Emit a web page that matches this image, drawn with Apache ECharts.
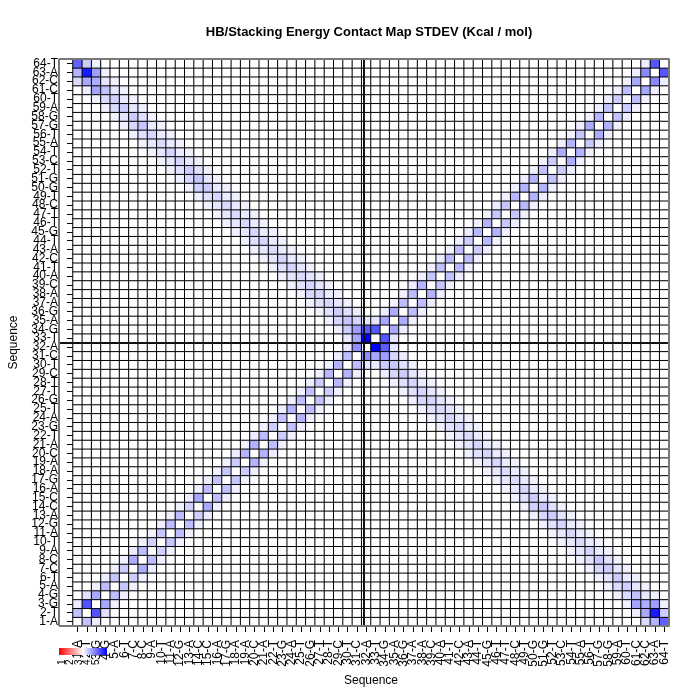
<!DOCTYPE html>
<html>
<head>
<meta charset="utf-8">
<script src="https://cdn.jsdelivr.net/npm/echarts@6/dist/echarts.min.js"></script>
<style>html,body{margin:0;padding:0;background:#fff}#c{width:700px;height:700px}</style>
</head>
<body>
<div id="c"></div>
<script>
// ---- data ----
const labels = ["1-A","2-T","3-G","4-G","5-A","6-T","7-C","8-C","9-A","10-T","11-A","12-G","13-A","14-C","15-C","16-A",
"17-G","18-A","19-A","20-C","21-A","22-T","23-G","24-A","25-T","26-G","27-T","28-T","29-C","30-T","31-C","32-A",
"33-T","34-G","35-A","36-G","37-A","38-A","39-C","40-A","41-T","42-C","43-A","44-T","45-G","46-T","47-T","48-C",
"49-T","50-G","51-G","52-T","53-C","54-T","55-A","56-T","57-G","58-G","59-A","60-T","61-C","62-C","63-A","64-T"];
const legendTicks = ["1","2","3","4","5"];
// stacking i,i+1 in strand 1 (i = 1..31)
const strand1Stack = [1.2,3.4,1.7,1.3,1.1,1.0,1.6,1.3,0.9,1.1,1.3,1.3,0.9,1.7,1.3,1.2,1.1,1.0,1.5,1.5,1.3,1.0,1.2,1.5,1.3,1.2,1.0,1.4,1.5,1.3,2.2];
// stacking i,i+1 in strand 2 (i = 33..63)
const strand2Stack = [3.3,1.7,1.6,1.3,1.3,1.5,1.1,1.2,1.4,1.3,1.0,1.4,1.5,1.1,1.1,1.4,1.5,1.5,1.2,1.0,1.6,1.5,1.1,1.6,1.5,1.2,1.0,1.3,1.7,2.3,3.3];
// i,i+2 in strand 1 (i = 1..30)
const strand1Next2 = [0.35,0.6,0.3,0.35,0.3,0.3,0.35,0.3,0.25,0.3,0.3,0.3,0.35,0.3,0.35,0.3,0.3,0.35,0.3,0.35,0.3,0.3,0.35,0.3,0.3,0.35,0.3,0.3,0.35,0.5];
// i,i+2 in strand 2 (i = 33..62)
const strand2Next2 = [0.5,0.35,0.3,0.3,0.35,0.3,0.3,0.35,0.3,0.3,0.35,0.3,0.3,0.35,0.3,0.3,0.35,0.3,0.3,0.35,0.3,0.3,0.35,0.3,0.3,0.35,0.3,0.3,0.35,0.35];
// HB pair i, 65-i (i = 1..32)
const hbPair = [3.1,4.5,1.6,1.2,0.9,1.0,1.0,1.1,0.8,0.7,0.8,0.8,1.0,1.1,1.0,0.8,0.7,0.7,0.8,0.8,0.8,0.7,0.8,0.8,0.7,0.8,0.8,0.8,1.0,1.1,1.9,5.0];
// cross contact i, 64-i (i = 1..31)
const crossA = [1.5,1.7,1.8,0.7,0.7,0.5,0.8,0.6,0.5,0.5,0.5,0.6,0.8,0.9,0.6,0.5,0.5,0.5,0.5,0.6,0.5,0.5,0.6,0.5,0.6,0.8,0.6,0.6,0.8,1.0,1.7];
// cross contact i+1, 65-i (i = 1..31)
const crossB = [1.0,1.9,0.5,0.5,0.4,0.5,0.6,0.4,0.4,0.4,0.4,0.5,0.6,0.5,0.4,0.4,0.4,0.4,0.4,0.4,0.4,0.4,0.4,0.5,0.5,0.5,0.4,0.5,0.6,0.8,3.2];
// cross contact i, 63-i (i = 1..30)
const crossA2 = [0.7,0.35,0.3,0.3,0.3,0.3,0.3,0.3,0.3,0.3,0.3,0.3,0.3,0.3,0.3,0.3,0.3,0.3,0.3,0.3,0.3,0.3,0.3,0.3,0.3,0.3,0.3,0.3,0.35,0.4];
// cross contact i+2, 65-i (i = 1..30)
const crossB2 = [0.3,0.3,0.3,0.3,0.3,0.3,0.3,0.3,0.3,0.3,0.3,0.3,0.3,0.3,0.3,0.3,0.3,0.3,0.3,0.3,0.3,0.3,0.3,0.3,0.3,0.3,0.3,0.3,0.35,0.5];

// ---- build symmetric matrix ----
const N = labels.length;
const M = [];
for (let i = 0; i < N; i++) { M.push(new Array(N).fill(0)); }
function put(i, j, v) { M[i-1][j-1] = v; M[j-1][i-1] = v; }
strand1Stack.forEach((v,k)=>put(k+1, k+2, v));
strand2Stack.forEach((v,k)=>put(k+33, k+34, v));
strand1Next2.forEach((v,k)=>put(k+1, k+3, v));
strand2Next2.forEach((v,k)=>put(k+33, k+35, v));
crossA2.forEach((v,k)=>put(k+1, 62-k, v));
crossB2.forEach((v,k)=>put(k+3, 64-k, v));
crossA.forEach((v,k)=>put(k+1, 63-k, v));
crossB.forEach((v,k)=>put(k+2, 64-k, v));
hbPair.forEach((v,k)=>put(k+1, 64-k, v));

const heat = [];
for (let x = 0; x < N; x++) for (let y = 0; y < N; y++) heat.push([x, y, M[x][y]]);

const font = 'Liberation Sans, Arial, sans-serif';
const chart = echarts.init(document.getElementById('c'));
const G = {left: 59, top: 59, width: 610, height: 567};
chart.setOption({
  animation: false,
  backgroundColor: '#fff',
  title: {text: 'HB/Stacking Energy Contact Map STDEV (Kcal / mol)', left: 364, top: 21, textAlign: 'center',
    textStyle: {fontFamily: font, fontSize: 13, fontWeight: 'bold', color: '#000'}},
  grid: [Object.assign({}, G), Object.assign({}, G)],
  xAxis: [
    {type: 'category', data: labels, gridIndex: 0, position: 'bottom',
     axisLine: {show: false}, axisTick: {show: true, alignWithLabel: true, length: 6, lineStyle: {color: '#000'}},
     axisLabel: {interval: 0, rotate: 90, margin: 14, fontFamily: font, fontSize: 12, color: '#000'},
     splitLine: {show: false},
     name: 'Sequence', nameLocation: 'middle', nameGap: 47, nameTextStyle: {fontFamily: font, fontSize: 12, color: '#000'}},
    {type: 'value', gridIndex: 1, min: 0.5, max: 64.5, show: false}
  ],
  yAxis: [
    {type: 'category', data: labels, gridIndex: 0,
     axisLine: {show: false}, axisTick: {show: true, alignWithLabel: true, length: 6, lineStyle: {color: '#000'}},
     axisLabel: {interval: 0, margin: 15, fontFamily: font, fontSize: 12, color: '#000'},
     splitLine: {show: false},
     name: 'Sequence', nameLocation: 'middle', nameGap: 53, nameTextStyle: {fontFamily: font, fontSize: 12, color: '#000'}},
    {type: 'value', gridIndex: 1, min: 0.5, max: 64.5, show: false}
  ],
  visualMap: {type: 'continuous', min: 0, max: 5, show: false, dimension: 2, seriesIndex: 0,
    inRange: {color: ['#ffffff', '#0000ff']}},
  series: [
    {type: 'heatmap', data: heat, xAxisIndex: 0, yAxisIndex: 0, progressive: 0,
     itemStyle: {borderColor: '#000', borderWidth: 1}, emphasis: {disabled: true}},
    {type: 'line', xAxisIndex: 1, yAxisIndex: 1, data: [], silent: true,
     markLine: {silent: true, symbol: ['none','none'], label: {show: false}, animation: false,
       lineStyle: {color: '#111', width: 2, type: 'solid'},
       data: [{xAxis: 32.5}, {yAxis: 32.5}]}},
    {type: 'line', xAxisIndex: 1, yAxisIndex: 1, data: [], silent: true,
     markLine: {silent: true, symbol: ['none','none'], label: {show: false}, animation: false,
       lineStyle: {color: '#777', width: 2, type: 'solid'},
       data: [{xAxis: 0.5}, {xAxis: 64.5}, {yAxis: 0.5}, {yAxis: 64.5}]}}
  ],
  graphic: [
    {type: 'rect', left: 59, top: 648, z: 100, shape: {width: 48, height: 7},
     style: {fill: new echarts.graphic.LinearGradient(0, 0, 1, 0, [
       {offset: 0, color: '#ff0000'}, {offset: 0.5, color: '#ffffff'}, {offset: 1, color: '#0000ff'}])}},
  ].concat(legendTicks.map((t, k) => ({
    type: 'text', z: 100, x: 62 + k * 8.5, y: 665, rotation: Math.PI / 2,
    style: {text: t, fontFamily: font, fontSize: 10, fill: '#000', textAlign: 'left', textVerticalAlign: 'middle'}
  })))
});
</script>
</body>
</html>
